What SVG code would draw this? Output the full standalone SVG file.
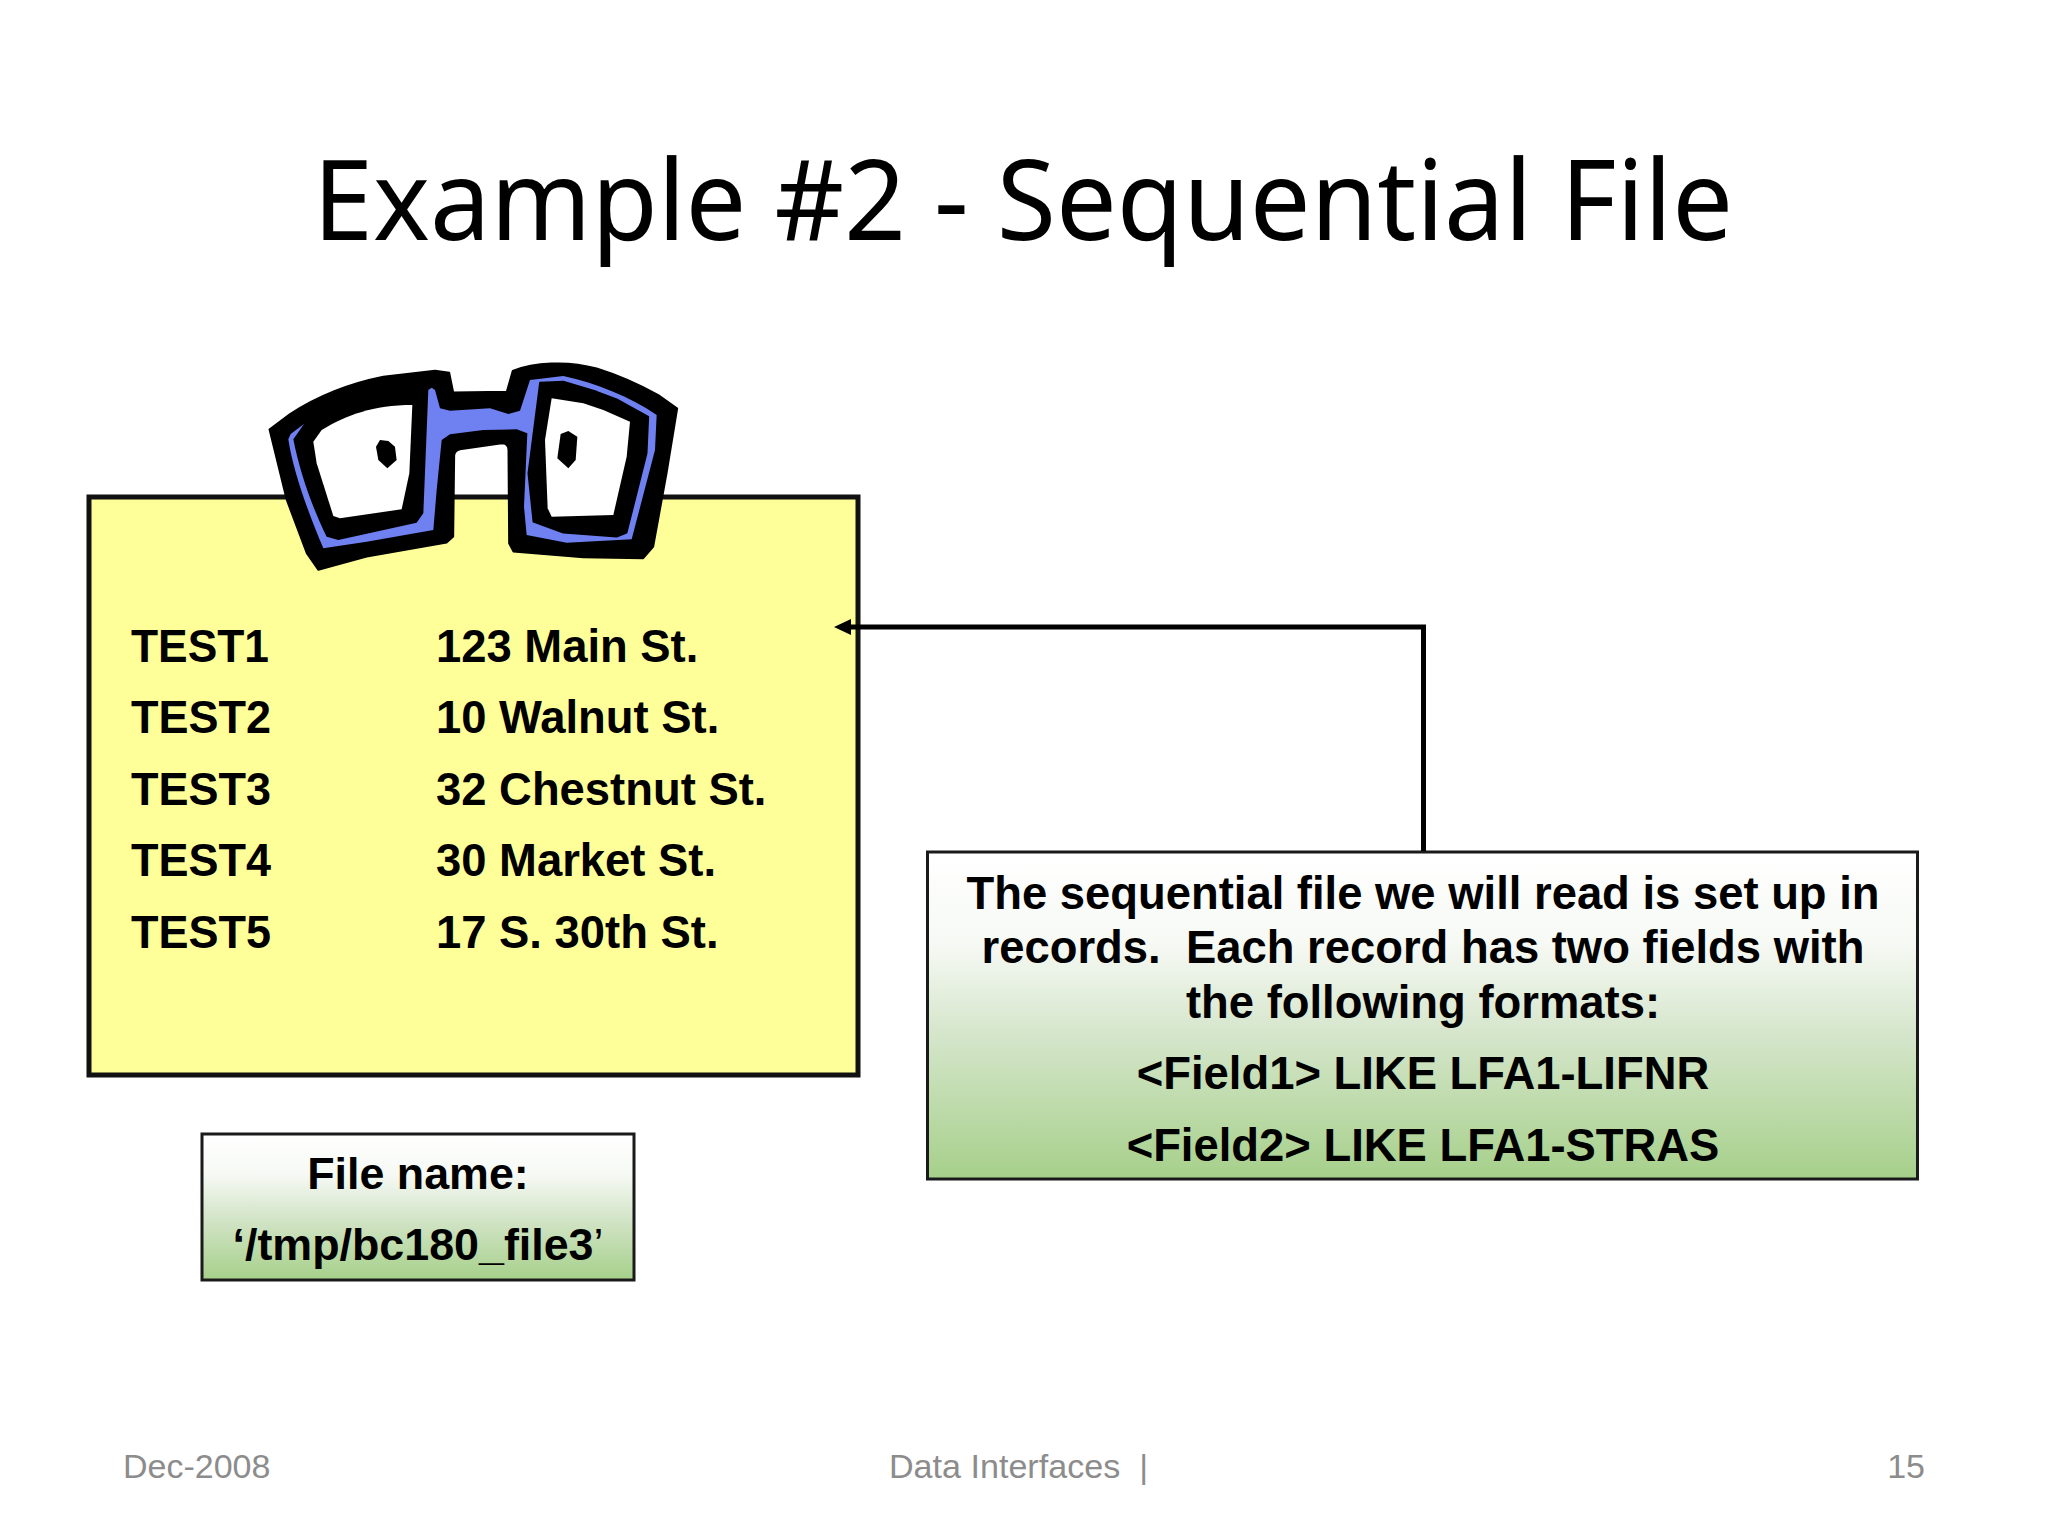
<svg xmlns="http://www.w3.org/2000/svg" width="2048" height="1536" viewBox="0 0 2048 1536">
<style>
.b{font-family:"Liberation Sans",Arial,sans-serif;font-weight:700;font-size:45.400px;fill:#000}
.c{text-anchor:middle}
.s{font-size:44.800px}
.f{font-family:"Liberation Sans",Arial,sans-serif;font-size:34px;fill:#8c8c8c}
.g{fill:url(#gr);stroke:#1a1a1a;stroke-width:3}
.k{fill:#000;stroke:#000;stroke-width:5;stroke-linejoin:round}
</style>
<defs>
<linearGradient id="gr" x1="0" y1="0" x2="0" y2="1">
<stop offset="0" stop-color="#ffffff"/><stop offset="0.28" stop-color="#f6f9f4"/><stop offset="0.55" stop-color="#d6e6cc"/><stop offset="1" stop-color="#a6d08a"/>
</linearGradient>
<marker id="ah" markerUnits="userSpaceOnUse" markerWidth="20" markerHeight="20" refX="11" refY="10" orient="auto"><path d="M0 2L17 10L0 18Z" fill="#000"/></marker>
</defs>
<rect width="2048" height="1536" fill="#fff"/>
<text id="title" x="1023" y="240" text-anchor="middle" font-family="'Noto Sans','Open Sans',sans-serif" font-size="112" fill="#000" textLength="1420" lengthAdjust="spacingAndGlyphs">Example #2 - Sequential File</text>
<g id="file-contents">
<rect x="89" y="497" width="769" height="578" fill="#ffff99" stroke="#111" stroke-width="5"/>
<text class="b" x="131" y="662" textLength="138" lengthAdjust="spacingAndGlyphs">TEST1</text><text class="b" x="436" y="662">123 Main St.</text>
<text class="b" x="131" y="733" textLength="140" lengthAdjust="spacingAndGlyphs">TEST2</text><text class="b" x="436" y="733">10 Walnut St.</text>
<text class="b" x="131" y="805" textLength="140" lengthAdjust="spacingAndGlyphs">TEST3</text><text class="b" x="436" y="805">32 Chestnut St.</text>
<text class="b" x="131" y="876" textLength="140" lengthAdjust="spacingAndGlyphs">TEST4</text><text class="b" x="436" y="876">30 Market St.</text>
<text class="b" x="131" y="948" textLength="140" lengthAdjust="spacingAndGlyphs">TEST5</text><text class="b" x="436" y="948">17 S. 30th St.</text>
</g>
<g id="glasses" transform="translate(250 340) scale(.33333)">
<path class="k" d="M58 268L120 222C200 170 300 130 400 110L555 92L598 98L610 157L770 155L788 92C850 68 950 60 1040 85C1120 110 1180 140 1225 165L1282 205L1250 400L1210 620L1180 655L1000 652L790 635L777 610L775 330Q775 310 755 310L630 328Q615 332 613 345L610 590L590 608L350 650L205 690L170 640L110 480Z"/>
<path fill="#6f80f0" d="M535 150L545 143L555 150L570 205L600 212L720 205L775 222L810 212L840 120L940 108C1040 130 1140 170 1220 225L1215 330L1145 598L950 608L830 585L822 500L832 280L800 268L700 270L600 283L575 300L560 450L550 570L350 605L220 625C180 530 130 400 115 298L122 282L162 252L130 298C150 400 190 510 230 590L265 600L500 548L520 520Z"/>
<path class="k" d="M870 128L940 125L1040 155L1100 178L1195 230L1190 340L1130 578L1100 590L940 578L850 545L835 400Z"/>
<path fill="#fff" d="M190 305L215 270C290 225 370 195 487 195L478 400L455 508L270 535L250 528L200 370Z"/>
<path fill="#fff" d="M905 175L1000 190L1060 210L1140 245L1130 350L1090 525L905 530L893 505L885 300Z"/>
<path fill="#000" d="M378 320L390 300L415 303L435 320L440 360L412 385L385 360Z"/>
<path fill="#000" d="M932 282L955 273L982 290L977 360L955 385L922 355Z"/>
</g>
<g id="filename-box">
<rect class="g" x="202" y="1134" width="432" height="146"/>
<text class="b c s" x="418" y="1189">File name:</text>
<text class="b c s" x="418" y="1260">‘/tmp/bc180_file3<tspan font-weight="400">’</tspan></text>
</g>
<g id="note-box">
<rect class="g" x="927.500" y="852" width="990" height="327"/>
<text class="b c" x="1423" y="909">The sequential file we will read is set up in</text>
<text class="b c" x="1423" y="963" xml:space="preserve">records.  Each record has two fields with</text>
<text class="b c" x="1423" y="1018">the following formats:</text>
<text class="b c" x="1423" y="1089">&lt;Field1&gt; LIKE LFA1-LIFNR</text>
<text class="b c" x="1423" y="1161">&lt;Field2&gt; LIKE LFA1-STRAS</text>
</g>
<g id="connectors" fill="none" stroke="#000" stroke-width="5">
<path d="M1423.500 851V627H840" marker-end="url(#ah)"/>
</g>
<g id="footer">
<text class="f" x="123" y="1478">Dec-2008</text>
<text class="f" x="889" y="1478" xml:space="preserve" textLength="259" lengthAdjust="spacingAndGlyphs">Data Interfaces  |</text>
<text class="f" x="1925" y="1478" text-anchor="end">15</text>
</g>
</svg>
